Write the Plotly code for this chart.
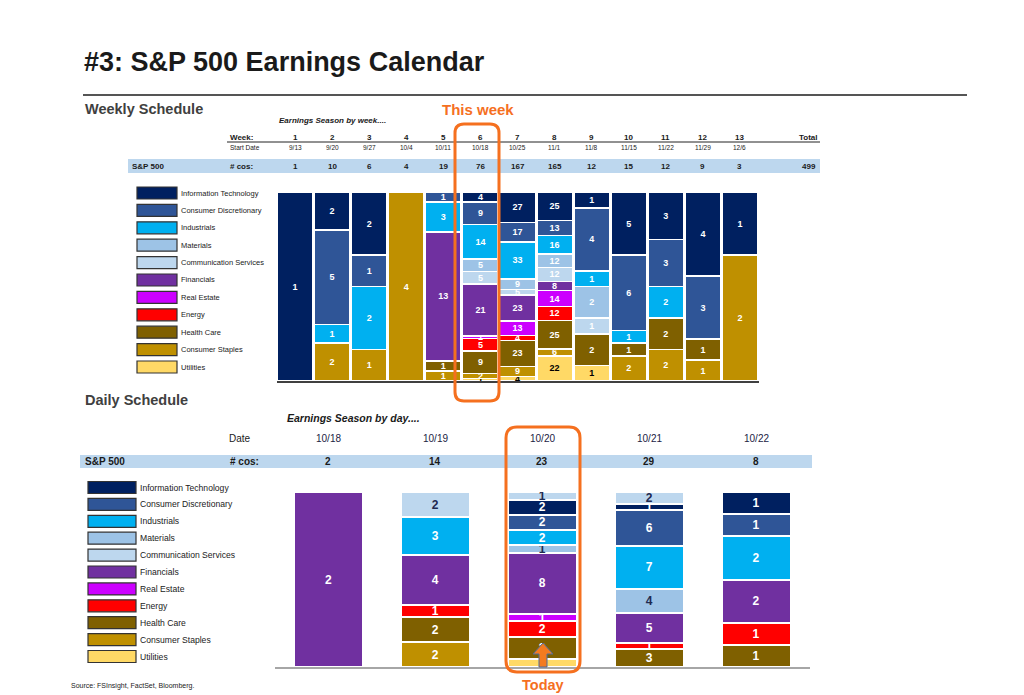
import plotly.graph_objects as go

# ---------------- DATA ----------------
sectors = ["Information Technology", "Consumer Discretionary", "Industrials", "Materials",
           "Communication Services", "Financials", "Real Estate", "Energy", "Health Care",
           "Consumer Staples", "Utilities"]
colors = ["#002060", "#2F5597", "#00B0F0", "#9DC3E6", "#BDD7EE", "#7030A0",
          "#CC00FF", "#FF0000", "#7F6000", "#BF9000", "#FFD966"]

weeks = [1, 2, 3, 4, 5, 6, 7, 8, 9, 10, 11, 12, 13]
start_dates = ["9/13", "9/20", "9/27", "10/4", "10/11", "10/18", "10/25", "11/1",
               "11/8", "11/15", "11/22", "11/29", "12/6"]
weekly_cos = [1, 10, 6, 4, 19, 76, 167, 165, 12, 15, 12, 9, 3]
weekly_total = 499

weekly = {
    "Information Technology": [1, 2, 2, 0, 0, 4, 27, 25, 1, 5, 3, 4, 1],
    "Consumer Discretionary": [0, 5, 1, 0, 1, 9, 17, 13, 4, 6, 3, 3, 0],
    "Industrials":            [0, 1, 2, 0, 3, 14, 33, 16, 1, 1, 2, 0, 0],
    "Materials":              [0, 0, 0, 0, 0, 5, 9, 12, 2, 0, 0, 0, 0],
    "Communication Services": [0, 0, 0, 0, 0, 5, 5, 12, 1, 0, 0, 0, 0],
    "Financials":             [0, 0, 0, 0, 13, 21, 23, 8, 0, 0, 0, 0, 0],
    "Real Estate":            [0, 0, 0, 0, 0, 1, 13, 14, 0, 0, 0, 0, 0],
    "Energy":                 [0, 0, 0, 0, 0, 5, 4, 12, 0, 0, 0, 0, 0],
    "Health Care":            [0, 0, 0, 0, 1, 9, 23, 25, 2, 1, 2, 1, 0],
    "Consumer Staples":       [0, 2, 1, 4, 1, 2, 9, 6, 0, 2, 2, 1, 2],
    "Utilities":              [0, 0, 0, 0, 0, 1, 4, 22, 1, 0, 0, 0, 0],
}
weekly_stack = ["Utilities", "Consumer Staples", "Health Care", "Energy", "Real Estate",
                "Financials", "Communication Services", "Materials", "Industrials",
                "Consumer Discretionary", "Information Technology"]

days = ["10/18", "10/19", "10/20", "10/21", "10/22"]
daily_cos = [2, 14, 23, 29, 8]
daily = {
    "Information Technology": [0, 0, 2, 1, 1],
    "Consumer Discretionary": [0, 0, 2, 6, 1],
    "Industrials":            [0, 3, 2, 7, 2],
    "Materials":              [0, 0, 1, 4, 0],
    "Communication Services": [0, 2, 1, 2, 0],
    "Financials":             [2, 4, 8, 5, 2],
    "Real Estate":            [0, 0, 1, 0, 0],
    "Energy":                 [0, 1, 2, 1, 1],
    "Health Care":            [0, 2, 3, 3, 1],
    "Consumer Staples":       [0, 2, 0, 0, 0],
    "Utilities":              [0, 0, 1, 0, 0],
}
daily_stack = ["Utilities", "Consumer Staples", "Health Care", "Energy", "Real Estate",
               "Financials", "Materials", "Industrials", "Consumer Discretionary",
               "Information Technology", "Communication Services"]

# ---------------- HELPERS ----------------
W, H = 1024, 695
FONT = "Liberation Sans, Arial, sans-serif"
ORANGE = "#F5701F"
col = dict(zip(sectors, colors))


def PX(x):
    return x / W


def PY(y):
    return 1 - y / H


fig = go.Figure()

# weekly bars
for s in weekly_stack:
    vals = weekly[s]
    tc = "black" if s == "Utilities" else "white"
    fig.add_trace(go.Bar(
        x=weeks, y=[v if v else None for v in vals],
        text=[str(v) if v else "" for v in vals], texttemplate="%{text}",
        textposition="inside", insidetextanchor="middle", constraintext="none", textangle=0,
        textfont=dict(size=9, color=tc, family=FONT, weight="bold"),
        marker=dict(color=col[s], line=dict(color="white", width=1.5)),
        width=0.96, xaxis="x", yaxis="y", showlegend=False, hoverinfo="skip", name=s))

# daily bars
for s in daily_stack:
    vals = daily[s]
    if s in ("Communication Services", "Materials"):
        tc = "#1F2A50"
    elif s == "Utilities":
        tc = "black"
    else:
        tc = "white"
    fig.add_trace(go.Bar(
        x=days, y=[v if v else None for v in vals],
        text=[str(v) if v else "" for v in vals], texttemplate="%{text}",
        textposition="inside", insidetextanchor="middle", constraintext="none", textangle=0,
        textfont=dict(size=12, color=tc, family=FONT, weight="bold"),
        marker=dict(color=col[s], line=dict(color="white", width=2)),
        width=0.645, xaxis="x2", yaxis="y2", showlegend=False, hoverinfo="skip", name=s))

shapes = []
ann = []


def text(x, y, t, size, color="#1a1a1a", xanchor="left", xref="paper", bold=False, italic=False):
    if bold:
        t = "<b>" + t + "</b>"
    if italic:
        t = "<i>" + t + "</i>"
    ann.append(dict(x=x, y=y, xref=xref, yref="paper", text=t, showarrow=False,
                    xanchor=xanchor, yanchor="middle",
                    font=dict(size=size, color=color, family=FONT)))


# title
text(PX(82), PY(62), "#3: S&P 500 Earnings Calendar", 27, "#1a1a1a", bold=True)
shapes.append(dict(type="line", xref="paper", yref="paper", x0=PX(83), x1=PX(967),
                   y0=PY(95), y1=PY(95), line=dict(color="#555555", width=2)))

# weekly header
text(PX(83), PY(109), "Weekly Schedule", 14.5, "#404040", bold=True)
text(PX(478), PY(109), "This week", 15, ORANGE, xanchor="center", bold=True)
text(PX(332), PY(121), "Earnings Season by week....", 8, "#1a1a1a", xanchor="center", bold=True, italic=True)
text(PX(228), PY(137), "Week:", 8, bold=True)
text(PX(228), PY(147), "Start Date", 6.5)
shapes.append(dict(type="line", xref="paper", yref="paper", x0=PX(227), x1=PX(820),
                   y0=PY(142), y1=PY(142), line=dict(color="#222222", width=1)))
shapes.append(dict(type="rect", xref="paper", yref="paper", x0=PX(128), x1=PX(820),
                   y0=PY(173), y1=PY(159), fillcolor="#BDD7EE", line=dict(width=0), layer="below"))
text(PX(130), PY(166), "S&P 500", 8, bold=True)
text(PX(228), PY(166), "# cos:", 8, bold=True)
for w, d, c in zip(weeks, start_dates, weekly_cos):
    text(w, PY(137), str(w), 8, xanchor="center", xref="x", bold=True)
    text(w, PY(147), d, 6.5, xanchor="center", xref="x")
    text(w, PY(166), str(c), 8, xanchor="center", xref="x", bold=True)
text(PX(820), PY(137), "Total", 8, xanchor="right", bold=True)
text(PX(818), PY(166), str(weekly_total), 8, xanchor="right", bold=True)

# weekly legend
for i, s in enumerate(sectors):
    yc = 193 + 17.4 * i
    shapes.append(dict(type="rect", xref="paper", yref="paper", x0=PX(137), x1=PX(177),
                       y0=PY(yc + 6), y1=PY(yc - 6), fillcolor=col[s],
                       line=dict(color="#333333", width=1.2)))
    text(PX(179), PY(yc), s, 7.5, "#1a1a1a")

# daily header
text(PX(83), PY(400), "Daily Schedule", 14.5, "#404040", bold=True)
text(PX(353), PY(418), "Earnings Season by day....", 10.5, "#1a1a1a", xanchor="center", bold=True, italic=True)
text(PX(227), PY(438), "Date", 10)
shapes.append(dict(type="rect", xref="paper", yref="paper", x0=PX(80), x1=PX(812),
                   y0=PY(468), y1=PY(455), fillcolor="#BDD7EE", line=dict(width=0), layer="below"))
text(PX(83), PY(461), "S&P 500", 10, bold=True)
text(PX(228), PY(461), "# cos:", 10, bold=True)
for d, c in zip(days, daily_cos):
    text(d, PY(438), d, 10, "#222244", xanchor="center", xref="x2")
    text(d, PY(461), str(c), 10, xanchor="center", xref="x2", bold=True)

# daily legend
for i, s in enumerate(sectors):
    yc = 487.5 + 16.9 * i
    shapes.append(dict(type="rect", xref="paper", yref="paper", x0=PX(88), x1=PX(136),
                       y0=PY(yc + 6), y1=PY(yc - 6), fillcolor=col[s],
                       line=dict(color="#333333", width=1.2)))
    text(PX(138), PY(yc), s, 8.6, "#1a1a1a")

text(PX(69), PY(686), "Source: FSInsight, FactSet, Bloomberg.", 7, "#1a1a1a")


# orange rounded boxes
def rrect(x0, y0, x1, y1, r):
    p = (f"M {PX(x0 + r)},{PY(y0)} L {PX(x1 - r)},{PY(y0)} Q {PX(x1)},{PY(y0)} {PX(x1)},{PY(y0 + r)} "
         f"L {PX(x1)},{PY(y1 - r)} Q {PX(x1)},{PY(y1)} {PX(x1 - r)},{PY(y1)} "
         f"L {PX(x0 + r)},{PY(y1)} Q {PX(x0)},{PY(y1)} {PX(x0)},{PY(y1 - r)} "
         f"L {PX(x0)},{PY(y0 + r)} Q {PX(x0)},{PY(y0)} {PX(x0 + r)},{PY(y0)} Z")
    return dict(type="path", xref="paper", yref="paper", path=p, line=dict(color=ORANGE, width=3))


shapes.append(rrect(455, 124, 499, 401, 9))
shapes.append(rrect(506, 427, 580, 672, 11))

# arrow
ax, tip, base, bot = 543, 643, 654, 667
arrow = (f"M {PX(ax)},{PY(tip)} L {PX(ax + 10)},{PY(base)} L {PX(ax + 4)},{PY(base)} "
         f"L {PX(ax + 4)},{PY(bot)} L {PX(ax - 4)},{PY(bot)} L {PX(ax - 4)},{PY(base)} "
         f"L {PX(ax - 10)},{PY(base)} Z")
shapes.append(dict(type="path", xref="paper", yref="paper", path=arrow,
                   fillcolor="#F47B20", line=dict(color="#4F6D9A", width=1)))
text(PX(543), PY(685), "Today", 14.5, ORANGE, xanchor="center", bold=True)

fig.update_layout(
    width=W, height=H, margin=dict(l=0, r=0, t=0, b=0),
    paper_bgcolor="white", plot_bgcolor="white",
    barmode="stack", barnorm="percent",
    font=dict(family=FONT),
    xaxis=dict(domain=[PX(276.5), PX(758.5)], range=[0.5, 13.5], showticklabels=False,
               showgrid=False, zeroline=False, showline=True, linecolor="#404040",
               linewidth=1.5, ticks="", anchor="y"),
    yaxis=dict(domain=[PY(381), PY(192)], range=[0, 100], showticklabels=False,
               showgrid=False, zeroline=False, anchor="x"),
    xaxis2=dict(domain=[PX(275), PX(809.5)], type="category", range=[-0.5, 4.5],
                showticklabels=False, showgrid=False, zeroline=False, showline=True,
                linecolor="#A6A6A6", linewidth=1.5, ticks="", anchor="y2"),
    yaxis2=dict(domain=[PY(667), PY(492)], range=[0, 100], showticklabels=False,
                showgrid=False, zeroline=False, anchor="x2"),
    shapes=shapes, annotations=ann,
)

fig.write_html("out.html", config={"displayModeBar": False},
               post_script="document.body.style.margin='0';document.body.style.overflow='hidden';")
